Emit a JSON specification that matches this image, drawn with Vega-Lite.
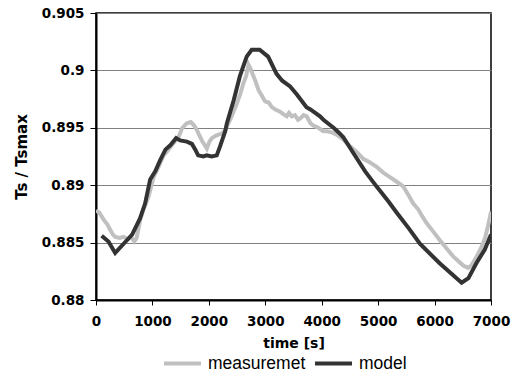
{
  "$schema": "https://vega.github.io/schema/vega-lite/v6.json",
  "width": 395,
  "height": 287,
  "autosize": {"type": "none"},
  "padding": {"left": 96, "top": 13, "right": 23, "bottom": 76},
  "background": "white",
  "config": {
    "view": {"stroke": "#000000", "strokeWidth": 1.5},
    "font": "DejaVu Sans"
  },
  "datasets": {
    "measuremet": [
      {"t":0,"v":0.8878},{"t":60,"v":0.8876},{"t":135,"v":0.8870},{"t":200,"v":0.8866},{"t":253,"v":0.8861},{"t":300,"v":0.8857},{"t":342,"v":0.8855},{"t":420,"v":0.8854},{"t":489,"v":0.8855},{"t":560,"v":0.8853},{"t":620,"v":0.8855},{"t":680,"v":0.8851},{"t":720,"v":0.8854},{"t":784,"v":0.8870},{"t":850,"v":0.8880},{"t":931,"v":0.8890},{"t":1020,"v":0.8907},{"t":1108,"v":0.8916},{"t":1197,"v":0.8926},{"t":1270,"v":0.8930},{"t":1345,"v":0.8935},{"t":1463,"v":0.8942},{"t":1530,"v":0.8950},{"t":1610,"v":0.8954},{"t":1680,"v":0.8955},{"t":1740,"v":0.8952},{"t":1788,"v":0.8948},{"t":1876,"v":0.8939},{"t":1964,"v":0.8932},{"t":2010,"v":0.8938},{"t":2053,"v":0.8941},{"t":2120,"v":0.8943},{"t":2171,"v":0.8944},{"t":2230,"v":0.8945},{"t":2289,"v":0.8948},{"t":2377,"v":0.8957},{"t":2495,"v":0.8971},{"t":2560,"v":0.8980},{"t":2613,"v":0.8989},{"t":2660,"v":0.8995},{"t":2702,"v":0.9005},{"t":2750,"v":0.9000},{"t":2790,"v":0.8995},{"t":2830,"v":0.8990},{"t":2879,"v":0.8983},{"t":2940,"v":0.8978},{"t":2997,"v":0.8973},{"t":3060,"v":0.8972},{"t":3115,"v":0.8968},{"t":3180,"v":0.8966},{"t":3262,"v":0.8964},{"t":3320,"v":0.8962},{"t":3380,"v":0.8960},{"t":3420,"v":0.8963},{"t":3470,"v":0.8960},{"t":3527,"v":0.8961},{"t":3580,"v":0.8957},{"t":3616,"v":0.8958},{"t":3680,"v":0.8961},{"t":3734,"v":0.8960},{"t":3800,"v":0.8954},{"t":3852,"v":0.8952},{"t":3940,"v":0.8950},{"t":4029,"v":0.8947},{"t":4100,"v":0.8947},{"t":4180,"v":0.8946},{"t":4265,"v":0.8944},{"t":4380,"v":0.8940},{"t":4501,"v":0.8934},{"t":4620,"v":0.8929},{"t":4737,"v":0.8923},{"t":4850,"v":0.8920},{"t":4973,"v":0.8916},{"t":5090,"v":0.8911},{"t":5209,"v":0.8907},{"t":5330,"v":0.8903},{"t":5445,"v":0.8899},{"t":5530,"v":0.8892},{"t":5622,"v":0.8884},{"t":5710,"v":0.8879},{"t":5780,"v":0.8873},{"t":5858,"v":0.8867},{"t":5970,"v":0.8860},{"t":6094,"v":0.8852},{"t":6210,"v":0.8845},{"t":6330,"v":0.8838},{"t":6420,"v":0.8834},{"t":6507,"v":0.8830},{"t":6595,"v":0.8828},{"t":6650,"v":0.8830},{"t":6713,"v":0.8835},{"t":6770,"v":0.8840},{"t":6831,"v":0.8846},{"t":6900,"v":0.8855},{"t":6949,"v":0.8865},{"t":6980,"v":0.8872},{"t":7000,"v":0.8877}
    ],
    "model": [
      {"t":100,"v":0.8856},{"t":220,"v":0.8851},{"t":340,"v":0.8841},{"t":490,"v":0.8849},{"t":640,"v":0.8857},{"t":780,"v":0.8871},{"t":870,"v":0.8884},{"t":960,"v":0.8905},{"t":1050,"v":0.8912},{"t":1140,"v":0.8922},{"t":1230,"v":0.8931},{"t":1320,"v":0.8935},{"t":1420,"v":0.8941},{"t":1490,"v":0.8939},{"t":1610,"v":0.8938},{"t":1700,"v":0.8936},{"t":1760,"v":0.8931},{"t":1810,"v":0.8926},{"t":1900,"v":0.8925},{"t":1960,"v":0.8926},{"t":2050,"v":0.8925},{"t":2140,"v":0.8926},{"t":2200,"v":0.8934},{"t":2290,"v":0.8947},{"t":2320,"v":0.8954},{"t":2440,"v":0.8974},{"t":2550,"v":0.8995},{"t":2670,"v":0.9012},{"t":2760,"v":0.9018},{"t":2900,"v":0.9018},{"t":3050,"v":0.9012},{"t":3200,"v":0.8997},{"t":3300,"v":0.8991},{"t":3440,"v":0.8986},{"t":3560,"v":0.8979},{"t":3730,"v":0.8968},{"t":3800,"v":0.8966},{"t":3970,"v":0.8960},{"t":4030,"v":0.8957},{"t":4210,"v":0.8950},{"t":4300,"v":0.8946},{"t":4380,"v":0.8942},{"t":4560,"v":0.8928},{"t":4770,"v":0.8912},{"t":4970,"v":0.8899},{"t":5180,"v":0.8886},{"t":5330,"v":0.8876},{"t":5550,"v":0.8862},{"t":5740,"v":0.8849},{"t":6090,"v":0.8832},{"t":6390,"v":0.8819},{"t":6480,"v":0.8815},{"t":6600,"v":0.8819},{"t":6740,"v":0.8832},{"t":6890,"v":0.8844},{"t":7000,"v":0.8857}
    ]
  },
  "layer": [
    {
      "data": {"name": "measuremet"},
      "transform": [{"calculate": "'measuremet'", "as": "series"}],
      "mark": {"type": "line", "strokeWidth": 4, "clip": true},
      "encoding": {
        "x": {"field": "t", "type": "quantitative"},
        "y": {"field": "v", "type": "quantitative"},
        "color": {"field": "series", "type": "nominal"}
      }
    },
    {
      "data": {"name": "model"},
      "transform": [{"calculate": "'model'", "as": "series"}],
      "mark": {"type": "line", "strokeWidth": 4, "clip": true},
      "encoding": {
        "x": {"field": "t", "type": "quantitative"},
        "y": {"field": "v", "type": "quantitative"},
        "color": {"field": "series", "type": "nominal"}
      }
    }
  ],
  "resolve": {"scale": {"x": "shared", "y": "shared", "color": "shared"}},
  "encoding": {
    "x": {
      "field": "t", "type": "quantitative",
      "scale": {"domain": [0, 7000], "nice": false, "zero": false},
      "axis": {
        "title": "time [s]", "values": [0,1000,2000,3000,4000,5000,6000,7000],
        "format": "d", "grid": false, "domainColor": "#000", "domainWidth": 2,
        "tickColor": "#000", "tickSize": 5, "tickWidth": 1,
        "labelFont": "DejaVu Sans", "labelFontWeight": "bold", "labelFontSize": 13.5, "labelColor": "#000",
        "labelPadding": 9, "labelFlush": false,
        "titleFont": "DejaVu Sans", "titleFontWeight": "bold", "titleFontSize": 14, "titleColor": "#000", "titlePadding": 9
      }
    },
    "y": {
      "field": "v", "type": "quantitative",
      "scale": {"domain": [0.88, 0.905], "nice": false, "zero": false},
      "axis": {
        "title": "Ts / Tsmax", "values": [0.88,0.885,0.89,0.895,0.9,0.905],
        "format": ".3~f", "grid": true, "gridColor": "#808080", "gridWidth": 1,
        "domainColor": "#000", "domainWidth": 2,
        "tickColor": "#000", "tickSize": 6, "tickWidth": 1,
        "labelFont": "DejaVu Sans", "labelFontWeight": "bold", "labelFontSize": 13.5, "labelColor": "#000",
        "labelPadding": 6,
        "titleFont": "DejaVu Sans", "titleFontWeight": "bold", "titleFontSize": 15, "titleColor": "#000", "titlePadding": 12
      }
    },
    "color": {
      "field": "series", "type": "nominal",
      "scale": {"domain": ["measuremet", "model"], "range": ["#c0c0c0", "#333333"]},
      "legend": {
        "title": null, "orient": "none", "direction": "horizontal",
        "legendX": 66, "legendY": 330,
        "symbolType": "stroke", "symbolSize": 1369, "symbolStrokeWidth": 4,
        "labelFont": "Liberation Sans", "labelFontSize": 17.5, "labelColor": "#000",
        "labelOffset": 5, "columnPadding": 1
      }
    }
  }
}
